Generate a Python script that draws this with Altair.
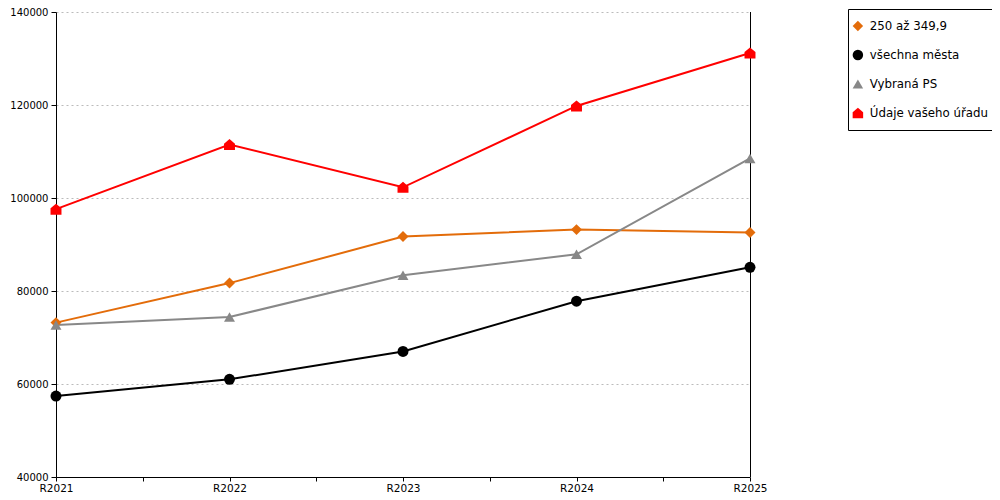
import altair as alt
import pandas as pd

years = ["R2021", "R2022", "R2023", "R2024", "R2025"]
series_names = ["250 až 349,9", "všechna města", "Vybraná PS", "Údaje vašeho úřadu"]
s_250 = [73200, 81700, 91700, 93200, 92600]
s_all = [57400, 61000, 67000, 77800, 85100]
s_ps = [72700, 74400, 83400, 87900, 108500]
s_office = [97600, 111500, 102300, 119800, 131200]
colors = ["#E36C0A", "#000000", "#888888", "#FF0000"]
house = "M-1,1L1,1L1,-0.15L0,-1L-1,-0.15Z"
shapes = ["diamond", "circle", "triangle-up", house]
y_ticks = [40000, 60000, 80000, 100000, 120000, 140000]

rows = []
for name, vals in zip(series_names, [s_250, s_all, s_ps, s_office]):
    for i, (yr, v) in enumerate(zip(years, vals)):
        rows.append({"idx": i, "year": yr, "series": name, "value": v})
df = pd.DataFrame(rows)

n = len(years) - 1
label_expr = ("datum.value % 1 == 0 ? [" + ",".join("'%s'" % y for y in years)
              + "][datum.value] : ''")
x_scale = alt.Scale(domain=[0, n], nice=False, zero=False)
y_scale = alt.Scale(domain=[40000, 140000], nice=False, zero=False)
color_scale = alt.Scale(domain=series_names, range=colors)
shape_scale = alt.Scale(domain=series_names, range=shapes)

x_axis = alt.Axis(orient="bottom", values=[i * 0.5 for i in range(2 * n + 1)],
                  ticks=True, tickSize=4, labelExpr=label_expr, labelPadding=2,
                  labelFontSize=10.5, grid=False, domain=True, title=None,
                  labelFlush=False)
y_axis = alt.Axis(orient="left", values=y_ticks, format="d", grid=True,
                  gridDash=[2, 3], gridColor="#bbbbbb", tickSize=5,
                  labelPadding=3, title=None)

lines = alt.Chart(df).mark_line(strokeWidth=2).encode(
    x=alt.X("idx:Q", scale=x_scale, axis=x_axis),
    y=alt.Y("value:Q", scale=y_scale, axis=y_axis),
    color=alt.Color("series:N", scale=color_scale, title=None),
    shape=alt.Shape("series:N", scale=shape_scale, title=None),
    order="idx:Q",
)

points = alt.Chart(df).mark_point(filled=True, opacity=1, size=120).encode(
    x=alt.X("idx:Q", scale=x_scale, axis=x_axis),
    y=alt.Y("value:Q", scale=y_scale, axis=y_axis),
    color=alt.Color("series:N", scale=color_scale, title=None),
    shape=alt.Shape("series:N", scale=shape_scale, title=None),
)

edge_df = pd.DataFrame({"idx": [n]})
right_edge = alt.Chart(edge_df).mark_rule(color="#000000", strokeWidth=1, xOffset=0.5).encode(
    x=alt.X("idx:Q", scale=x_scale, axis=x_axis),
)

chart = alt.layer(right_edge, lines, points).properties(
    width=694, height=465,
    padding={"left": 48, "top": 4, "right": 242, "bottom": 15},
    autosize=alt.AutoSizeParams(type="none"),
).configure_view(stroke=None).configure_axis(
    labelFont="DejaVu Sans", labelFontSize=10, labelColor="#000000",
    domainColor="#000000", tickColor="#000000", domainWidth=1, tickWidth=1,
).configure_legend(
    orient="none", legendX=792, legendY=-3,
    strokeColor="#000000", fillColor="#ffffff", padding=4,
    labelFont="DejaVu Sans", labelFontSize=11.8, labelColor="#000000",
    symbolSize=110, clipHeight=26, rowPadding=3, labelOffset=6,
    symbolStrokeWidth=0, symbolOpacity=1,
)

chart.save("out.html", embed_options={"renderer": "svg", "actions": False})
